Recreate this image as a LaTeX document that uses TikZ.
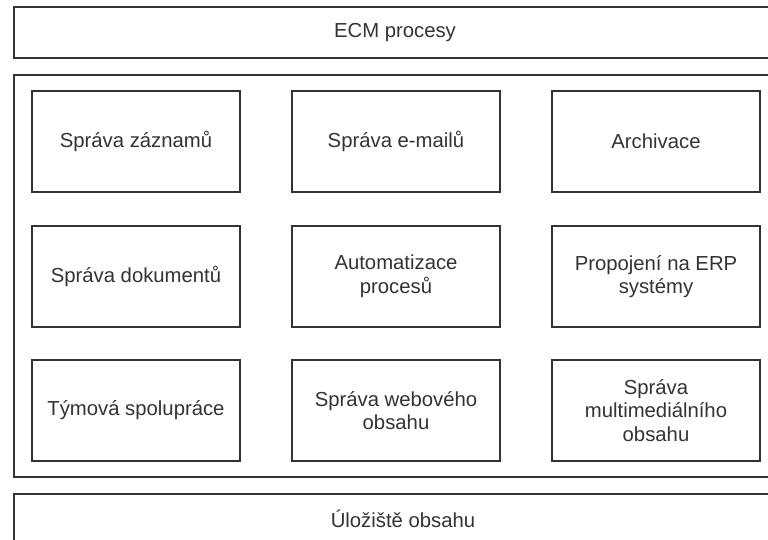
\documentclass[tikz,border=0pt]{standalone}
\usepackage{fontspec}
\setmainfont{Liberation Sans}
\begin{document}
\begin{tikzpicture}[x=1pt,y=-1pt,
  frame/.style={draw=black!80, line width=1.3pt, fill=white, inner sep=0pt},
  txt/.style={font=\fontsize{20.3}{23.5}\selectfont, text=black!80, align=center},
  card/.style={frame, txt, minimum width=208pt, minimum height=101pt}]
\useasboundingbox (0,0) rectangle (768,540);
\clip (0,0) rectangle (768,540);
\node[frame, txt, minimum width=762pt, minimum height=51pt] (top) at (395,32.5) {ECM procesy};
\node[frame, minimum width=762pt, minimum height=402pt] (mid) at (395,276) {};
\node[frame, txt, minimum width=778pt, minimum height=50pt] (bot) at (403,519) {Úložiště obsahu};
\node[card] (c1) at (136,141.5) {Správa záznamů};
\node[card] (c2) at (396,141.5) {Správa e-mailů};
\node[card] (c3) at (656,141.5) {Archivace};
\node[card] (c4) at (136,276.5) {Správa dokumentů};
\node[card] (c5) at (396,276.5) {Automatizace\\procesů};
\node[card] (c6) at (656,276.5) {Propojení na ERP\\systémy};
\node[card] (c7) at (136,410.5) {Týmová spolupráce};
\node[card] (c8) at (396,410.5) {Správa webového\\obsahu};
\node[card] (c9) at (656,410.5) {Správa\\multimediálního\\obsahu};
\end{tikzpicture}
\end{document}
